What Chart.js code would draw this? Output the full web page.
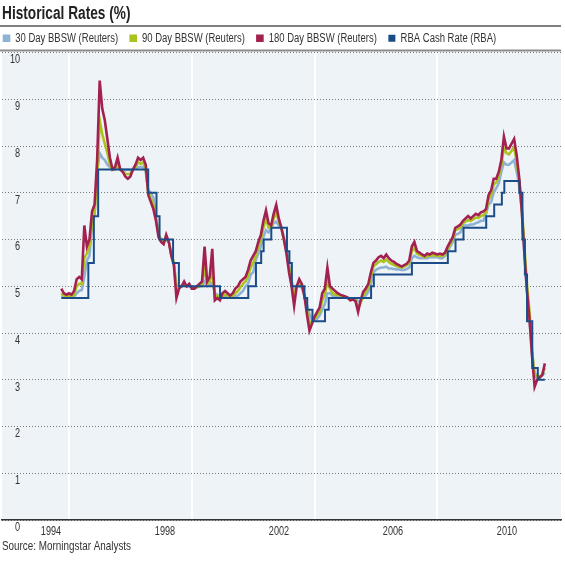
<!DOCTYPE html>
<html><head><meta charset="utf-8">
<script src="https://cdn.jsdelivr.net/npm/chart.js@4/dist/chart.umd.min.js"></script>
<style>html,body{margin:0;padding:0;background:#fff;}canvas{display:block;}</style>
</head><body>
<canvas id="c" width="565" height="562"></canvas>
<script>
const FONT = "'Liberation Sans', Arial, sans-serif";

const chartTitle = 'Historical Rates (%)';
const sourceNote = 'Source: Morningstar Analysts';
const seriesNames = ['30 Day BBSW (Reuters)', '90 Day BBSW (Reuters)', '180 Day BBSW (Reuters)', 'RBA Cash Rate (RBA)'];

// monthly observations, first one = Oct 1993
const startYear = 1993.75;

const bbsw30 = [
  4.8, 4.78, 4.76,
  4.77, 4.76, 4.78, 4.85, 4.9, 4.92, 5.2, 5.55, 5.65, 6.3, 6.55, 7.45,
  7.85, 7.75, 7.7, 7.6, 7.55, 7.5, 7.5, 7.55, 7.5, 7.5, 7.48, 7.5,
  7.48, 7.5, 7.52, 7.55, 7.55, 7.55, 7.45, 7.05, 7.0, 6.9, 6.5, 6.1,
  6.0, 5.98, 5.98, 5.95, 5.7, 5.5, 5.0, 5.0, 5.0, 5.02, 5.0, 5.0,
  5.0, 4.98, 4.98, 5.0, 5.0, 5.1, 5.0, 5.02, 5.08, 4.85, 4.82, 4.75,
  4.77, 4.78, 4.77, 4.76, 4.77, 4.78, 4.8, 4.85, 4.9, 5.0, 5.05, 5.25,
  5.3, 5.55, 5.7, 5.85, 6.05, 6.2, 6.15, 6.25, 6.35, 6.38, 6.3, 6.25,
  6.05, 5.8, 5.5, 5.1, 4.95, 5.0, 5.0, 4.97, 4.8, 4.6, 4.4, 4.28,
  4.28, 4.3, 4.38, 4.5, 4.62, 4.85, 4.85, 4.8, 4.8, 4.8, 4.78, 4.78,
  4.76, 4.76, 4.72, 4.73, 4.72, 4.68, 4.68, 4.76, 4.8, 4.88, 5.05, 5.3,
  5.35, 5.38, 5.4, 5.4, 5.42, 5.38, 5.38, 5.37, 5.36, 5.36, 5.35, 5.35,
  5.37, 5.4, 5.6, 5.65, 5.62, 5.6, 5.6, 5.6, 5.6, 5.62, 5.62, 5.62,
  5.62, 5.6, 5.6, 5.65, 5.75, 5.85, 5.95, 6.1, 6.12, 6.15, 6.3, 6.3,
  6.3, 6.32, 6.32, 6.35, 6.37, 6.4, 6.4, 6.55, 6.75, 6.8, 7.0, 7.1,
  7.2, 7.45, 7.65, 7.6, 7.6, 7.65, 7.7, 7.45, 7.15, 6.6, 5.7, 4.9,
  4.3, 3.55, 3.15, 3.05, 3.05, 3.1, 3.15
];

const bbsw90 = [
  4.85, 4.8, 4.78,
  4.8, 4.78, 4.82, 5.0, 5.05, 5.05, 5.6, 5.7, 5.85, 6.35, 6.55, 7.35,
  8.55, 8.25, 8.05, 7.85, 7.6, 7.5, 7.5, 7.65, 7.5, 7.45, 7.4, 7.4,
  7.4, 7.48, 7.55, 7.65, 7.62, 7.65, 7.5, 7.0, 6.88, 6.75, 6.45, 6.1,
  6.0, 5.95, 6.02, 5.95, 5.68, 5.5, 4.9, 4.98, 5.0, 5.05, 5.0, 5.02,
  4.98, 4.95, 4.98, 5.0, 5.05, 5.4, 5.05, 5.1, 5.35, 4.78, 4.8, 4.75,
  4.8, 4.82, 4.8, 4.78, 4.8, 4.85, 4.9, 4.98, 5.05, 5.1, 5.22, 5.4,
  5.5, 5.65, 5.85, 6.0, 6.25, 6.45, 6.25, 6.25, 6.45, 6.58, 6.4, 6.25,
  6.0, 5.75, 5.4, 5.05, 4.8, 5.0, 5.05, 5.0, 4.82, 4.5, 4.2, 4.25,
  4.3, 4.38, 4.45, 4.7, 4.82, 5.1, 4.95, 4.85, 4.82, 4.82, 4.8, 4.8,
  4.76, 4.75, 4.7, 4.72, 4.7, 4.55, 4.65, 4.8, 4.88, 4.98, 5.2, 5.42,
  5.47, 5.52, 5.55, 5.52, 5.57, 5.52, 5.48, 5.46, 5.43, 5.42, 5.4, 5.42,
  5.45, 5.5, 5.75, 5.82, 5.7, 5.67, 5.65, 5.62, 5.65, 5.65, 5.67, 5.66,
  5.65, 5.66, 5.64, 5.68, 5.8, 5.9, 6.0, 6.2, 6.22, 6.26, 6.35, 6.38,
  6.42, 6.4, 6.43, 6.47, 6.46, 6.5, 6.52, 6.58, 6.85, 6.95, 7.18, 7.22,
  7.35, 7.6, 7.95, 7.85, 7.82, 7.9, 7.98, 7.65, 7.25, 6.7, 5.85, 5.05,
  4.45, 3.65, 3.05, 3.1, 3.05, 3.12, 3.25
];

const bbsw180 = [
  4.95, 4.85, 4.82,
  4.85, 4.82, 4.9, 5.15, 5.2, 5.15, 6.3, 5.85, 6.0, 6.6, 6.75, 7.7,
  9.4, 8.8, 8.55, 8.15, 7.75, 7.5, 7.55, 7.75, 7.5, 7.45, 7.35, 7.3,
  7.35, 7.5, 7.6, 7.75, 7.7, 7.75, 7.6, 6.95, 6.8, 6.65, 6.4, 6.05,
  5.95, 5.9, 6.1, 5.95, 5.65, 5.45, 4.75, 4.95, 5.0, 5.1, 5.0, 5.05,
  4.95, 4.95, 5.0, 5.05, 5.1, 5.85, 5.1, 5.2, 5.8, 4.7, 4.75, 4.7,
  4.85, 4.9, 4.85, 4.8, 4.85, 4.95, 5.0, 5.1, 5.15, 5.2, 5.35, 5.55,
  5.65, 5.75, 5.95, 6.1, 6.4, 6.62, 6.35, 6.3, 6.55, 6.74, 6.45, 6.25,
  6.0, 5.7, 5.3, 5.0, 4.58, 5.0, 5.15, 5.05, 4.8, 4.4, 4.05, 4.2,
  4.35, 4.45, 4.55, 4.85, 4.95, 5.4, 5.0, 4.95, 4.9, 4.85, 4.82, 4.8,
  4.78, 4.75, 4.7, 4.72, 4.68, 4.45, 4.7, 4.88, 4.95, 5.05, 5.3, 5.5,
  5.55, 5.62, 5.65, 5.6, 5.68, 5.6, 5.55, 5.52, 5.48, 5.45, 5.42, 5.45,
  5.48, 5.55, 5.85, 5.95, 5.75, 5.72, 5.68, 5.65, 5.7, 5.68, 5.72, 5.7,
  5.68, 5.7, 5.68, 5.72, 5.85, 5.95, 6.05, 6.25, 6.28, 6.32, 6.4, 6.45,
  6.5, 6.45, 6.5, 6.55, 6.52, 6.58, 6.6, 6.65, 6.95, 7.05, 7.3, 7.3,
  7.45, 7.7, 8.2, 7.95, 7.95, 8.05, 8.15, 7.8, 7.3, 6.6, 5.7, 4.9,
  4.3, 3.5, 2.85, 3.0, 3.05, 3.1, 3.35
];

// RBA cash-rate decisions (decimal year of change, new rate)
const cashDates = [1993.75, 1994.63, 1994.81, 1994.95, 1996.58, 1996.85, 1996.95, 1997.39, 1997.58,
  1998.92, 1999.84, 2000.09, 2000.26, 2000.34, 2000.59, 2001.10, 2001.18, 2001.26, 2001.67, 2001.76,
  2001.93, 2002.34, 2002.46, 2003.84, 2003.93, 2005.17, 2006.34, 2006.59, 2006.85, 2007.59, 2007.85,
  2008.10, 2008.18, 2008.67, 2008.77, 2008.85, 2008.92, 2009.09, 2009.27, 2009.5];
const cashRates = [4.75, 5.5, 6.5, 7.5, 7.0, 6.5, 6.0, 5.5, 5.0,
  4.75, 5.0, 5.5, 5.75, 6.0, 6.25, 5.75, 5.5, 5.0, 4.75, 4.5,
  4.25, 4.5, 4.75, 5.0, 5.25, 5.5, 5.75, 6.0, 6.25, 6.5, 6.75,
  7.0, 7.25, 7.0, 6.0, 5.25, 4.25, 3.25, 3.0, 3.0];

const yTickValues = [0, 1, 2, 3, 4, 5, 6, 7, 8, 9, 10];
const xTickYears = [1994, 1998, 2002, 2006, 2010];
const gridYears = [1994, 1998, 2002, 2006];

const colors = ['#8fb2d4', '#acc21f', '#a3214f', '#1c4c88'];

// condensed lettering: every text run is drawn horizontally squeezed
const SQUEEZE = 0.76;
const canvas = document.getElementById('c');
const ctx2d = canvas.getContext('2d');
const nativeFill = ctx2d.fillText;
const nativeMeasure = ctx2d.measureText;
ctx2d.fillText = function (text, x, y, maxWidth) {
  this.save();
  this.translate(x, y);
  this.scale(SQUEEZE, 1);
  if (maxWidth === undefined) nativeFill.call(this, text, 0, 0);
  else nativeFill.call(this, text, 0, 0, maxWidth / SQUEEZE);
  this.restore();
};
ctx2d.measureText = function (text) {
  const m = nativeMeasure.call(this, text);
  return {
    width: m.width * SQUEEZE,
    actualBoundingBoxLeft: m.actualBoundingBoxLeft * SQUEEZE,
    actualBoundingBoxRight: m.actualBoundingBoxRight * SQUEEZE,
    actualBoundingBoxAscent: m.actualBoundingBoxAscent,
    actualBoundingBoxDescent: m.actualBoundingBoxDescent,
    fontBoundingBoxAscent: m.fontBoundingBoxAscent,
    fontBoundingBoxDescent: m.fontBoundingBoxDescent
  };
};

const monthly = arr => arr.map((v, i) => ({ x: startYear + i / 12, y: v }));
const cashPoints = cashDates.map((d, i) => ({ x: d, y: cashRates[i] }));

const framePlugin = {
  id: 'frame',
  afterLayout(chart) {
    const lg = chart.legend;
    if (lg) { lg.left -= 10.5; lg.right -= 10.5; lg.top -= 3.5; lg.bottom -= 3.5; }
  },
  beforeDraw(chart) {
    const { ctx, chartArea: a } = chart;
    ctx.save();
    ctx.fillStyle = '#eef3f8';
    ctx.fillRect(a.left, a.top, a.right - a.left, a.bottom - a.top);
    ctx.restore();
  },
  afterDraw(chart) {
    const { ctx, chartArea: a } = chart;
    ctx.save();
    ctx.strokeStyle = '#555';
    ctx.lineWidth = 1.5;
    ctx.beginPath(); ctx.moveTo(0, 26); ctx.lineTo(a.right, 26); ctx.stroke();
    ctx.strokeStyle = '#8c8c8c';
    ctx.lineWidth = 2;
    ctx.beginPath(); ctx.moveTo(0, a.top - 2); ctx.lineTo(a.right, a.top - 2); ctx.stroke();
    ctx.restore();
  }
};

const lineDs = (label, data, color, order) => ({
  label, data, borderColor: color, backgroundColor: color,
  borderWidth: 2.6, pointRadius: 0, tension: 0, fill: false, order
});

new Chart(canvas, {
  type: 'line',
  data: {
    datasets: [
      lineDs(seriesNames[0], monthly(bbsw30), colors[0], 3),
      lineDs(seriesNames[1], monthly(bbsw90), colors[1], 2),
      lineDs(seriesNames[2], monthly(bbsw180), colors[2], 1),
      Object.assign(lineDs(seriesNames[3], cashPoints, colors[3], 0), { stepped: true, borderWidth: 2 })
    ]
  },
  options: {
    responsive: false,
    animation: false,
    devicePixelRatio: 1,
    layout: { padding: { left: 2, right: 4, top: 0, bottom: 0 } },
    plugins: {
      title: {
        display: true, text: chartTitle, align: 'start', color: '#222',
        font: { family: FONT, size: 18, weight: 'bold', lineHeight: 1 },
        padding: { top: 5, bottom: 0 }
      },
      subtitle: {
        display: true, text: sourceNote, position: 'bottom', align: 'start', color: '#333',
        font: { family: FONT, size: 13, weight: 'normal', lineHeight: 1.2 },
        padding: { top: 0.7, bottom: 7.7 }
      },
      legend: {
        display: true, position: 'top', align: 'start', maxHeight: 29.5,
        labels: {
          boxWidth: 5, boxHeight: 5, padding: 12.5, color: '#333',
          font: { family: FONT, size: 12.5 },
          sort: (a, b) => a.datasetIndex - b.datasetIndex
        }
      },
      tooltip: { enabled: false }
    },
    scales: {
      x: {
        type: 'linear', position: 'bottom', min: 1991.818, max: 2010.026,
        grid: { color: '#ffffff', lineWidth: 2, drawTicks: false },
        border: { display: true, color: '#333', width: 1.5 },
        ticks: { display: false },
        afterBuildTicks: ax => { ax.ticks = gridYears.map(v => ({ value: v })); },
        afterFit: s => { s.height = 0; }
      },
      xl: {
        type: 'linear', position: 'bottom', weight: 1, min: 1992.281, max: 2011.895,
        grid: { display: false, drawTicks: false },
        border: { display: false },
        ticks: {
          autoSkip: false, maxRotation: 0, padding: 4.1, color: '#333',
          font: { family: FONT, size: 12 },
          callback: v => String(v)
        },
        afterBuildTicks: ax => { ax.ticks = xTickYears.map(v => ({ value: v })); },
        afterFit: s => { s.height = 18; }
      },
      y: {
        type: 'linear', position: 'left', min: 0, max: 10,
        grid: { color: '#7a7a7a', lineWidth: 1, drawTicks: false },
        border: { display: false, dash: [1, 2] },
        ticks: {
          mirror: true, crossAlign: 'far', padding: 8, labelOffset: 7.5, color: '#333',
          font: { family: FONT, size: 12 },
          callback: v => String(v)
        },
        afterBuildTicks: ax => { ax.ticks = yTickValues.map(v => ({ value: v })); },
        afterFit: s => { s.width = 0; }
      }
    }
  },
  plugins: [framePlugin]
});
</script>
</body></html>
